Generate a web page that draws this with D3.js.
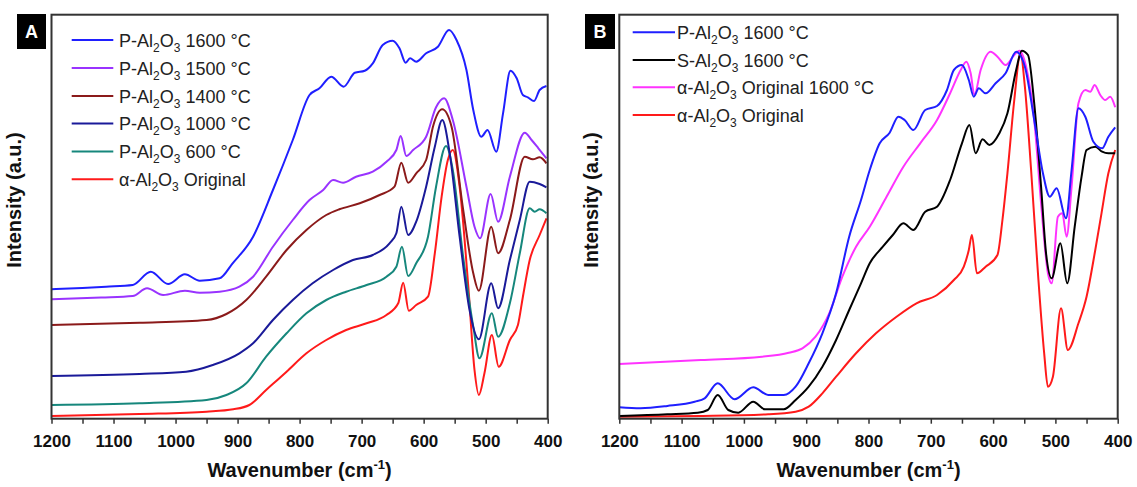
<!DOCTYPE html>
<html><head><meta charset="utf-8">
<script src="https://cdn.jsdelivr.net/npm/d3@7"></script>
<style>
html,body{margin:0;padding:0;background:#fff;}
svg{display:block;font-family:"Liberation Sans",Arial,sans-serif;}
</style></head>
<body>
<svg id="chart" width="1137" height="487"></svg>
<script>
// ---------- DATA (wavenumber cm-1, intensity a.u.) ----------
const xTicks = [1200,1100,1000,900,800,700,600,500,400];
const xMinorTicks = [1150,1050,950,850,750,650,550,450];

const A_P1600 = [[1200,132.7],[1150,134],[1112,135.3],[1069,137],[1040,150.3],[1012,138],[985,147.7],[961,141.3],[929,143.7],[908,158.7],[875,185.3],[843,232],[811,282],[784,327],[768,333.7],[749,345.3],[729,335.3],[711,349.3],[695,351.3],[682,358.7],[666,377],[650,381.3],[639,373.7],[629,359.3],[622,363.7],[612,360.3],[596,368.7],[577,375.3],[559,392],[547,382],[531,352],[520,312],[507,285.3],[497,292],[483,270.3],[472,308.7],[460,351.3],[450,343.7],[440,327],[432,324.7],[422,321],[413,332],[402,336]];
const A_P1500 = [[1200,122.7],[1120,124.5],[1069,126],[1046,133.7],[1020,127],[985,131.3],[961,129.3],[929,130.3],[897,135.3],[875,145.3],[843,175.3],[811,202],[784,222],[762,232],[746,242],[730,239.3],[709,245.3],[682,250.3],[660,260.3],[644,272],[637,286],[628,266],[617,272],[596,285.3],[580,314.7],[567,323.7],[553,302],[531,235.3],[518,195.3],[509,183.7],[492,228],[480,200.3],[461,245.3],[437,289.3],[426,282],[415,273.7],[402,263.7]];
const A_P1400 = [[1200,97],[1058,99.3],[950,102],[918,108],[886,122],[854,145.3],[821,172],[789,192],[757,207],[736,212.7],[703,218.7],[671,227],[647,235.3],[636,259.3],[625,239.3],[612,248.7],[596,262],[585,295.3],[570,312.7],[555,295.3],[537,215.3],[520,148.7],[511,131.3],[491,195.3],[480,168.7],[461,202],[437,265.3],[424,262.7],[413,264.7],[402,258.7]];
const A_P1000 = [[1200,46],[1058,48],[983,50.3],[940,57],[897,68.7],[875,78.7],[843,102],[811,122],[779,138.7],[746,152],[714,162],[682,167],[655,178.7],[644,188.7],[636,215.3],[625,187],[612,200.3],[596,235.3],[582,275.3],[570,302],[558,268.7],[542,185.3],[526,112],[511,82.7],[491,138.7],[480,113.7],[461,162],[445,202],[429,240.3],[413,238],[402,234.7]];
const A_P600 = [[1200,17],[1058,18.7],[950,22],[918,27],[886,38.7],[854,65.3],[821,88.7],[789,108.7],[757,122],[725,130.3],[692,137],[660,145.3],[644,155.3],[635,175.3],[625,146],[612,158.7],[593,185.3],[580,235.3],[564,276],[553,252],[537,168.7],[520,95.3],[510,63.7],[490,108.7],[480,85.3],[461,118.7],[445,168.7],[429,213.7],[421,210.3],[413,212.7],[402,208.7]];
const A_Orig = [[1200,6],[1058,8],[950,10.3],[907,12.7],[881,17],[854,32],[821,50.3],[789,68.7],[757,82],[725,92],[692,98.7],[660,107],[641,118.7],[633,139.3],[624,111.3],[612,117],[593,125.3],[582,168.7],[571,225.3],[561,262],[553,272],[542,235.3],[528,135.3],[518,52],[511,27],[502,48.7],[490,87],[479,55.3],[461,82],[448,97],[440,125.3],[429,162],[413,187],[402,203.7]];

const B_P1600 = [[1200,11.4],[1166,10.4],[1123,12.7],[1079,17],[1063,20.4],[1042,35.4],[1015,19.4],[985,31.4],[961,23.7],[936,23.7],[917,32],[896,55.4],[874,85.4],[852,125.4],[831,182],[812,218.7],[798,248.7],[782,275.4],[766,286],[752,302],[742,298.7],[728,288.7],[709,308.7],[690,312.7],[674,328.7],[663,348.7],[650,353.7],[639,338.7],[631,322],[623,330.4],[612,325.4],[596,335.4],[580,345.4],[563,367],[549,352],[534,298.7],[520,245.4],[509,222],[498,230.4],[483,200.4],[474,248.7],[463,310.4],[452,302],[439,277],[425,270.4],[415,282],[404,291.4]];
const B_S1600 = [[1200,2.7],[1123,4.4],[1074,6],[1058,8.7],[1042,23.7],[1025,8.7],[1009,6],[985,17],[966,9.4],[936,9.4],[917,18.7],[896,32],[874,52],[852,78.7],[831,108.7],[812,135.4],[798,155.4],[777,172],[761,183.7],[744,195.4],[728,188.7],[709,207],[690,212],[669,238.7],[650,275.4],[638,293.7],[628,265.4],[617,279.4],[606,273.7],[590,285.4],[577,305.4],[563,348.7],[554,368],[544,363.7],[534,315.4],[523,232],[515,165.4],[506,140.4],[492,175.4],[481,135.4],[469,192],[458,242],[450,268.7],[436,272],[425,267],[415,265.4],[404,265.4]];
const B_Orig1600 = [[1200,54.7],[1069,58.7],[971,62],[928,66],[906,70.4],[885,82],[863,105.4],[842,142],[820,172],[798,192],[771,222],[744,252],[717,275.4],[690,298.7],[669,325.4],[652,348.7],[643,357],[636,345.4],[630,323.7],[620,348.7],[604,367],[593,362],[580,353.7],[566,363.7],[558,368],[547,352],[534,298.7],[523,215.4],[512,145.4],[506,135.4],[496,202],[489,205.4],[482,182],[474,232],[463,315.4],[452,328.7],[444,327],[437,333.7],[428,323.7],[420,318.7],[412,322],[404,311.4]];
const B_Orig = [[1200,2],[1069,2.7],[961,4.4],[917,7],[896,12],[874,25.4],[852,42],[820,65.4],[788,85.4],[755,102],[723,115.4],[690,123.7],[663,138.7],[647,152],[639,168.7],[634,183.7],[626,145.4],[612,152],[593,163.7],[585,198.7],[577,245.4],[566,318.7],[556,365.4],[549,332],[539,248.7],[528,145.4],[518,65.4],[512,32],[504,42],[491,110.4],[480,68.7],[463,95.4],[450,122],[436,168.7],[426,205.4],[415,245.4],[404,268.7]];

const A_prefixes = ["P","P","P","P","P","α"];
const A_labels = ["1600 °C","1500 °C","1400 °C","1000 °C","600 °C","Original"];
const B_prefixes = ["P","S","α","α"];
const B_labels = ["1600 °C","1600 °C","Original 1600 °C","Original"];
// ------------------------------------------------------------

const svg = d3.select("#chart");
const FONT = '"Liberation Sans",Arial,sans-serif';

function drawPanel(cfg){
  const g = svg.append("g");
  const x = d3.scaleLinear().domain([1200,400]).range([cfg.x0, cfg.x1]);
  const y = d3.scaleLinear().domain(cfg.yDomain).range([cfg.y1, cfg.y0]);

  const line = d3.line().x(d=>x(d[0])).y(d=>y(d[1])).curve(d3.curveMonotoneX);
  cfg.series.slice().reverse().forEach(s=>{
    g.append("path").datum(s.data)
      .attr("fill","none").attr("stroke",s.color).attr("stroke-width",2)
      .attr("stroke-linejoin","round").attr("d",line);
  });

  // frame
  g.append("rect").attr("x",cfg.x0).attr("y",cfg.y0)
    .attr("width",cfg.x1-cfg.x0).attr("height",cfg.y1-cfg.y0)
    .attr("fill","none").attr("stroke","#333").attr("stroke-width",2);

  // bottom axis
  const ax = g.append("g").attr("transform",`translate(0,${cfg.y1})`)
    .call(d3.axisBottom(x).tickValues(xTicks).tickSize(5).tickPadding(11).tickFormat(d3.format("d")));
  ax.select(".domain").remove();
  ax.selectAll(".tick line").attr("stroke","#333").attr("stroke-width",1.5);
  ax.selectAll(".tick text").attr("font-family",FONT).attr("font-size",17)
    .attr("font-weight","bold").attr("fill","#111");
  const axm = g.append("g").attr("transform",`translate(0,${cfg.y1})`)
    .call(d3.axisBottom(x).tickValues(xMinorTicks).tickSize(5).tickFormat(""));
  axm.select(".domain").remove();
  axm.selectAll(".tick line").attr("stroke","#333").attr("stroke-width",1.5);

  // axis titles
  const t = g.append("text").attr("x",(cfg.x0+cfg.x1)/2).attr("y",477)
    .attr("text-anchor","middle").attr("font-family",FONT).attr("font-size",20)
    .attr("font-weight","bold").attr("fill","#111");
  t.append("tspan").text("Wavenumber (cm");
  t.append("tspan").attr("font-size",13).attr("dy",-8).text("-1");
  t.append("tspan").attr("dy",8).text(")");

  g.append("text").attr("transform",`translate(${cfg.ylx},${cfg.yly}) rotate(-90)`)
    .attr("text-anchor","middle").attr("font-family",FONT).attr("font-size",20)
    .attr("font-weight","bold").attr("fill","#111").text("Intensity (a.u.)");

  // panel badge
  g.append("rect").attr("x",cfg.bx).attr("y",14).attr("width",cfg.bw).attr("height",35).attr("fill","#000");
  g.append("text").attr("x",cfg.bx+cfg.bw/2).attr("y",38).attr("text-anchor","middle")
    .attr("font-family",FONT).attr("font-size",18).attr("font-weight","bold").attr("fill","#fff").text(cfg.badge);

  // legend
  cfg.series.forEach((s,i)=>{
    const ly = cfg.legY[i];
    g.append("line").attr("x1",cfg.lx1).attr("x2",cfg.lx2).attr("y1",ly).attr("y2",ly)
      .attr("stroke",s.color).attr("stroke-width",2);
    const tx = g.append("text").attr("x",cfg.tx).attr("y",ly+6.5)
      .attr("font-family",FONT).attr("font-size",18).attr("fill","#222");
    tx.append("tspan").text(s.prefix+"-Al");
    tx.append("tspan").attr("font-size",12).attr("dy",5).text("2");
    tx.append("tspan").attr("dy",-5).text("O");
    tx.append("tspan").attr("font-size",12).attr("dy",5).text("3");
    tx.append("tspan").attr("dy",-5).text(" "+s.rest);
  });
}

const A_colors = ["#1f1fff","#9933ff","#8b1a1a","#1a1a99","#16877c","#ff1a1a"];
const A_data = [A_P1600,A_P1500,A_P1400,A_P1000,A_P600,A_Orig];
const B_colors = ["#1f1fff","#000000","#ff33ff","#ff1a1a"];
const B_data = [B_P1600,B_S1600,B_Orig1600,B_Orig];

drawPanel({
  x0:51.5, x1:547.7, y0:14.7, y1:418.7, yDomain:[3.3,407.3],
  ylx:21, yly:200, bx:17, bw:29, badge:"A",
  lx1:71.7, lx2:113.3, tx:119, legY:[40,68,96,123.5,151.5,179.3],
  series:A_data.map((d,i)=>({data:d, color:A_colors[i], prefix:A_prefixes[i], rest:A_labels[i]}))
});
drawPanel({
  x0:619.3, x1:1117.7, y0:14.7, y1:418.7, yDomain:[0,404],
  ylx:598, yly:200, bx:585, bw:30, badge:"B",
  lx1:632.7, lx2:675, tx:677, legY:[32.3,60,87.3,115],
  series:B_data.map((d,i)=>({data:d, color:B_colors[i], prefix:B_prefixes[i], rest:B_labels[i]}))
});
</script>
</body></html>
